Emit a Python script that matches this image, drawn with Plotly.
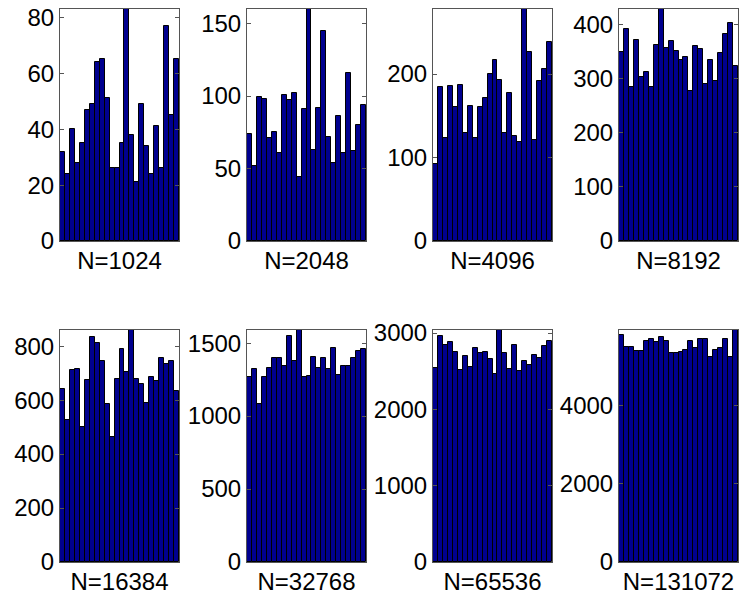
import plotly.graph_objects as go

# ---- data (24 bins per histogram) ----
labels = ["N=1024", "N=2048", "N=4096", "N=8192",
          "N=16384", "N=32768", "N=65536", "N=131072"]

counts_1024 = [32, 24, 40, 28, 35, 47, 49, 64, 65, 51, 26, 26, 35, 83, 38, 21, 49, 34, 24, 41, 26, 77, 45, 65]
counts_2048 = [74, 52, 99, 98, 71, 75, 61, 101, 97, 102, 44, 91, 160, 63, 92, 145, 72, 54, 86, 61, 116, 62, 80, 94]
counts_4096 = [92, 184, 124, 186, 161, 187, 129, 162, 124, 161, 171, 200, 217, 193, 129, 177, 126, 119, 278, 226, 121, 192, 206, 238]
counts_8192 = [348, 392, 285, 370, 302, 311, 284, 362, 428, 356, 369, 350, 334, 340, 276, 360, 355, 290, 334, 296, 347, 382, 402, 322]
counts_16384 = [640, 525, 710, 715, 500, 675, 835, 810, 745, 585, 465, 680, 790, 705, 860, 680, 660, 590, 685, 670, 755, 735, 745, 635]
counts_32768 = [1265, 1320, 1080, 1265, 1330, 1400, 1400, 1340, 1550, 1380, 1590, 1270, 1275, 1405, 1330, 1395, 1320, 1465, 1285, 1340, 1345, 1395, 1445, 1460]
counts_65536 = [2540, 2960, 2840, 2880, 2750, 2520, 2700, 2550, 2810, 2740, 2750, 2660, 2470, 3040, 2740, 2530, 2850, 2500, 2640, 2580, 2710, 2670, 2830, 2900]
counts_131072 = [5790, 5490, 5490, 5380, 5380, 5640, 5700, 5620, 5730, 5640, 5330, 5330, 5370, 5400, 5630, 5450, 5690, 5680, 5220, 5400, 5470, 5700, 5220, 5920]

tick_steps = [20, 50, 100, 100, 200, 500, 1000, 2000]

all_counts = [counts_1024, counts_2048, counts_4096, counts_8192,
              counts_16384, counts_32768, counts_65536, counts_131072]

W, H = 739, 599
# panel pixel boxes (left, right) and rows (top, bottom)
cols_px = [(60, 179), (247, 366), (433, 552), (619, 738)]
rows_px = [(9, 241), (330, 562)]

fig = go.Figure()
font = dict(family="Liberation Sans, Arial, sans-serif", size=24, color="black")

for i, counts in enumerate(all_counts):
    r, c = divmod(i, 4)
    n = i + 1
    xa = "x" if n == 1 else f"x{n}"
    ya = "y" if n == 1 else f"y{n}"
    bins = list(range(1, len(counts) + 1))
    fig.add_trace(go.Bar(
        x=bins, y=counts, xaxis=xa, yaxis=ya,
        marker=dict(color="#00008F", line=dict(color="black", width=1)),
        showlegend=False, hoverinfo="y"))
    l, rt = cols_px[c]
    t, b = rows_px[r]
    xdom = [l / W, rt / W]
    ydom = [1 - b / H, 1 - t / H]
    key_x = "xaxis" if n == 1 else f"xaxis{n}"
    key_y = "yaxis" if n == 1 else f"yaxis{n}"
    fig.layout[key_x] = dict(
        domain=xdom, anchor=ya, range=[0.5, len(counts) + 0.5],
        showticklabels=False, ticks="", showgrid=False, zeroline=False,
        showline=True, linecolor="#555", linewidth=1, mirror=True,
        automargin=False,
        title=dict(text=labels[i], font=font, standoff=11), fixedrange=True)
    fig.layout[key_y] = dict(
        domain=ydom, anchor=xa, range=[0, max(counts)],
        dtick=tick_steps[i], tick0=0, ticks="inside", ticklen=4,
        tickcolor="#555", showgrid=False, zeroline=False,
        showline=True, linecolor="#555", linewidth=1, mirror="ticks",
        automargin=False, tickfont=font, fixedrange=True)

fig.update_layout(
    width=W, height=H, margin=dict(l=0, r=0, t=0, b=0, autoexpand=False),
    paper_bgcolor="white", plot_bgcolor="white", bargap=0,
    showlegend=False)

fig.write_html("out.html",
               config={"displayModeBar": False},
               post_script="document.body.style.margin='0';"
                           "document.documentElement.style.overflow='hidden';")
